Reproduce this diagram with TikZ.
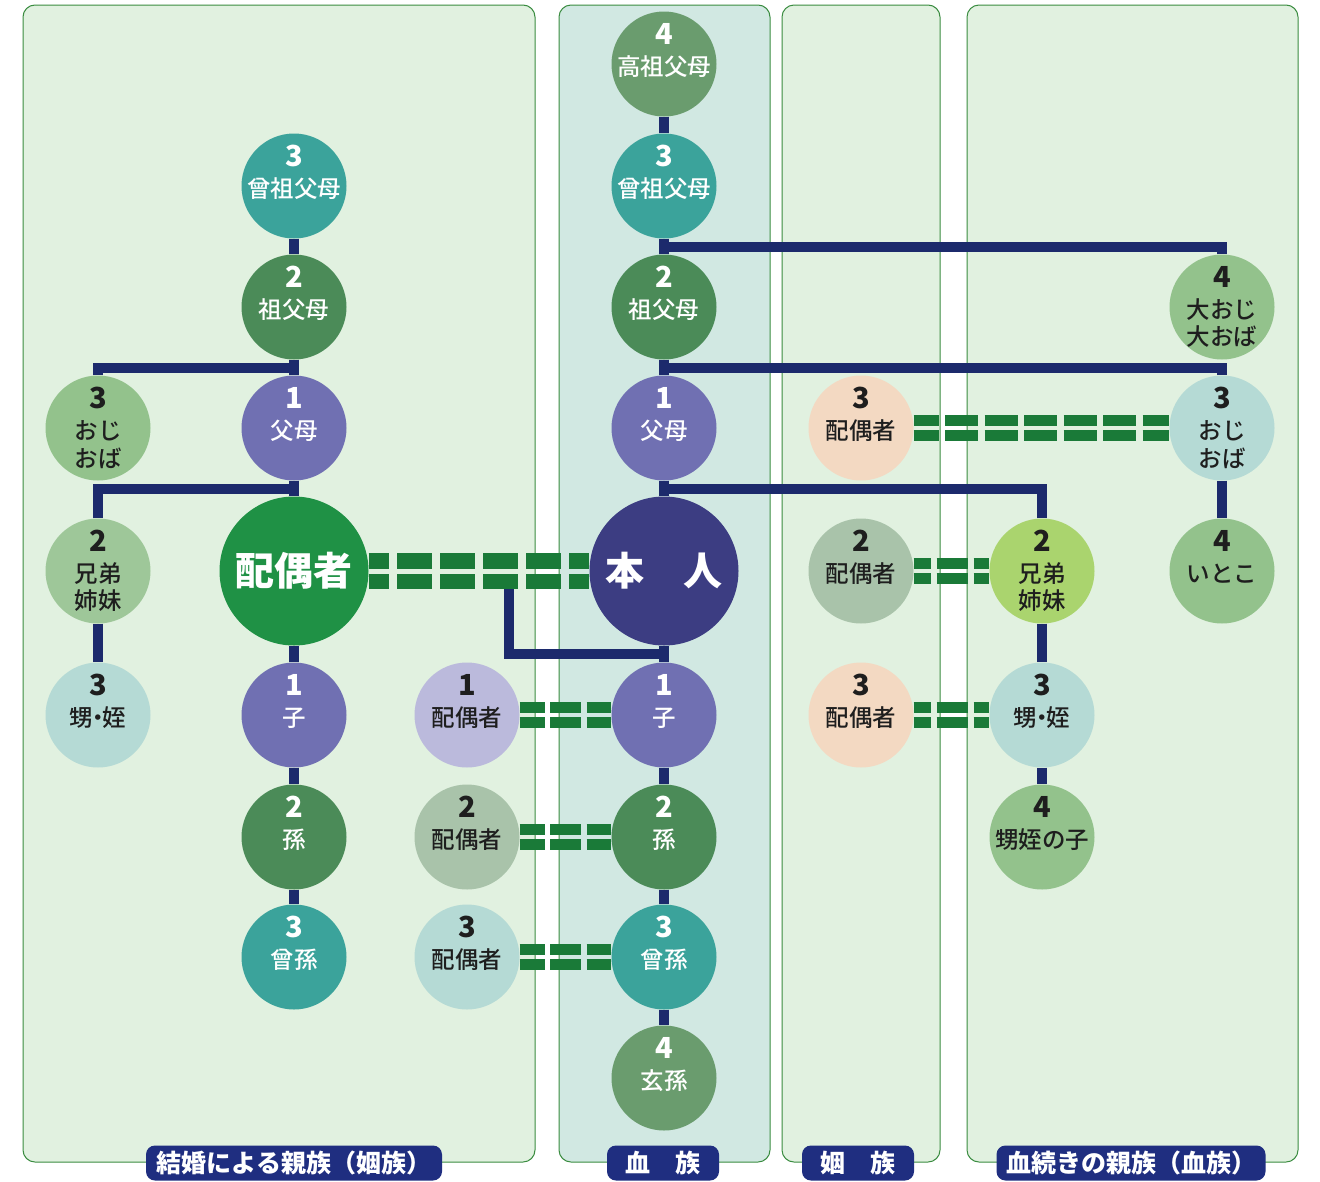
\documentclass[tikz,border=0pt]{standalone}
\usepackage{fontspec}
\setmainfont{Noto Sans CJK JP}
\newfontfamily\labfont{Noto Sans CJK JP}[UprightFont={* Medium}]
\usetikzlibrary{calc}
\definecolor{cNavy}{HTML}{1C2A6C}
\definecolor{cDash}{HTML}{1A7A38}
\definecolor{cPill}{HTML}{1F2E80}
\definecolor{cBorder}{HTML}{3A8C40}
\definecolor{cPanel}{HTML}{E1F1E0}
\definecolor{cPanelB}{HTML}{D1E8E2}
\definecolor{cTeal}{HTML}{3BA39B}
\definecolor{cGreen}{HTML}{4B8B58}
\definecolor{cPurple}{HTML}{7070B2}
\definecolor{cOlive}{HTML}{6A9C6E}
\definecolor{cSpouse}{HTML}{1F9145}
\definecolor{cSelf}{HTML}{3C3D82}
\definecolor{cLGreen}{HTML}{93C28C}
\definecolor{cLGreenB}{HTML}{9EC799}
\definecolor{cPTeal}{HTML}{B5DAD5}
\definecolor{cLav}{HTML}{BBBADC}
\definecolor{cGrey}{HTML}{A9C3AA}
\definecolor{cPeach}{HTML}{F3D9C2}
\definecolor{cLime}{HTML}{AAD46E}
\definecolor{cInk}{HTML}{1E1E1E}
\pgfdeclarelayer{panels}
\pgfdeclarelayer{links}
\pgfsetlayers{panels,links,main}
\newcommand\nd{{\kern-0.3em}・{\kern-0.3em}}
\newcommand\pp[7]{%
  \node[pc,fill=#3] (#1) at (#2) {};
  \node[numt,text=#4] (#1-n) at ([yshift=30pt]#1.center) {#5};
  \node[labt,text=#4] (#1-a) at ([yshift=-3pt]#1.center) {#6};
  \if\relax\detokenize{#7}\relax\else
  \node[labt,text=#4] (#1-b) at ([yshift=-30pt]#1.center) {#7};
  \fi}
\begin{document}
\begin{tikzpicture}[x=1pt,y=-1pt,
  pc/.style={circle,minimum size=105pt,inner sep=0pt,draw=none},
  bigc/.style={circle,minimum size=149pt,inner sep=0pt,draw=none,text=white,
    font=\fontsize{39}{39}\selectfont\bfseries},
  numt/.style={inner sep=0pt,font=\fontsize{29}{29}\selectfont\bfseries},
  labt/.style={inner sep=0pt,font=\labfont\fontsize{23.5}{23.5}\selectfont},
  link/.style={draw=cNavy,line width=10pt},
  dl/.style={draw=cDash,line width=11pt},
  dlbig/.style={draw=cDash,line width=15.5pt,dash pattern=on 35pt off 8pt,dash phase=14.5pt},
  panel/.style={draw=cBorder,line width=1pt,rounded corners=12pt},
  pill/.style={fill=cPill,text=white,rounded corners=9pt,minimum height=35pt,
    inner sep=0pt,font=\fontsize{25}{25}\selectfont\bfseries}]
\useasboundingbox (0,0) rectangle (1320,1181);
\begin{pgfonlayer}{panels}
\fill[white] (0,0) rectangle (1320,1181);
\draw[panel,fill=cPanel] (23,5) rectangle (535,1162);
\draw[panel,fill=cPanelB] (559,5) rectangle (770,1162);
\draw[panel,fill=cPanel] (782,5) rectangle (940,1162);
\draw[panel,fill=cPanel] (967,5) rectangle (1298,1162);
\end{pgfonlayer}
% left panel
\pp{LS3}{294,186}{cTeal}{white}{3}{曾祖父母}{}
\pp{LS2}{294,307}{cGreen}{white}{2}{祖父母}{}
\pp{LOJ}{98,428}{cLGreen}{cInk}{3}{おじ}{おば}
\pp{LP}{294,428}{cPurple}{white}{1}{父母}{}
\pp{LSB}{98,571}{cLGreenB}{cInk}{2}{兄弟}{姉妹}
\node[bigc,fill=cSpouse] (SP) at (294,571) {配偶者};
\pp{LNN}{98,715}{cPTeal}{cInk}{3}{甥\nd 姪}{}
\pp{LC1}{294,715}{cPurple}{white}{1}{子}{}
\pp{LC2}{294,837}{cGreen}{white}{2}{孫}{}
\pp{LC3}{294,957}{cTeal}{white}{3}{曾孫}{}
\pp{SP1}{467,715}{cLav}{cInk}{1}{配偶者}{}
\pp{SP2}{467,837}{cGrey}{cInk}{2}{配偶者}{}
\pp{SP3}{467,957}{cPTeal}{cInk}{3}{配偶者}{}
% blood column
\pp{B4}{664,64}{cOlive}{white}{4}{高祖父母}{}
\pp{B3}{664,186}{cTeal}{white}{3}{曾祖父母}{}
\pp{B2}{664,307}{cGreen}{white}{2}{祖父母}{}
\pp{B1}{664,428}{cPurple}{white}{1}{父母}{}
\node[bigc,fill=cSelf] (HON) at (664,571) {本　人};
\pp{C1}{664,715}{cPurple}{white}{1}{子}{}
\pp{C2}{664,837}{cGreen}{white}{2}{孫}{}
\pp{C3}{664,957}{cTeal}{white}{3}{曾孫}{}
\pp{C4}{664,1078}{cOlive}{white}{4}{玄孫}{}
% in-law column
\pp{IS3}{861,428}{cPeach}{cInk}{3}{配偶者}{}
\pp{IS2}{861,571}{cGrey}{cInk}{2}{配偶者}{}
\pp{IS3b}{861,715}{cPeach}{cInk}{3}{配偶者}{}
% right panel
\pp{RGU}{1222,307}{cLGreen}{cInk}{4}{大おじ}{大おば}
\pp{ROJ}{1222,428}{cPTeal}{cInk}{3}{おじ}{おば}
\pp{RIT}{1222,571}{cLGreen}{cInk}{4}{いとこ}{}
\pp{RSB}{1042,571}{cLime}{cInk}{2}{兄弟}{姉妹}
\pp{RNN}{1042,715}{cPTeal}{cInk}{3}{甥\nd 姪}{}
\pp{RNC}{1042,837}{cLGreen}{cInk}{4}{甥姪の子}{}
% labels
\node[pill,minimum width=296pt] (t1) at (294,1163) {結婚による親族（姻族）};
\node[pill,minimum width=112pt] (t2) at (663,1163) {血　族};
\node[pill,minimum width=112pt] (t3) at (858,1163) {姻　族};
\node[pill,minimum width=269pt] (t4) at (1131,1163) {血続きの親族（血族）};
\coordinate (mk) at (509,575);
\begin{pgfonlayer}{links}
\draw[link] (LS3.south) -- (LS2.north);
\draw[link] (LS2.south) -- (LP.north);
\draw[link] (LP.south) -- (SP.north);
\draw[link] (SP.south) -- (LC1.north);
\draw[link] (LC1.south) -- (LC2.north);
\draw[link] (LC2.south) -- (LC3.north);
\draw[link] ($(LS2.south)!.5!(LP.north)$) -| (LOJ.north);
\draw[link] ($(LP.south)!.5!(SP.north)$) -| (LSB.north);
\draw[link] (LSB.south) -- (LNN.north);
\draw[link] (B4.south) -- (B3.north);
\draw[link] (B3.south) -- (B2.north);
\draw[link] (B2.south) -- (B1.north);
\draw[link] (B1.south) -- (HON.north);
\draw[link] (HON.south) -- (C1.north);
\draw[link] (C1.south) -- (C2.north);
\draw[link] (C2.south) -- (C3.north);
\draw[link] (C3.south) -- (C4.north);
\draw[link] ($(B3.south)!.5!(B2.north)$) -| (RGU.north);
\draw[link] ($(B2.south)!.5!(B1.north)$) -| (ROJ.north);
\draw[link] ($(B1.south)!.5!(HON.north)$) -| (RSB.north);
\draw[link] (ROJ.south) -- (RIT.north);
\draw[link] (RSB.south) -- (RNN.north);
\draw[link] (RNN.south) -- (RNC.north);
\draw[link] (mk) |- ($(HON.south)!.5!(C1.north)$);
% double dashed marriage links
\draw[dlbig] ([yshift=10.25pt]SP.east) -- ([yshift=10.25pt]HON.west);
\draw[dlbig] ([yshift=-10.25pt]SP.east) -- ([yshift=-10.25pt]HON.west);
\foreach \a/\b/\on/\off/\ph in {SP1/C1/31/5.5/6,SP2/C2/31/5.5/6,SP3/C3/31/5.5/6,
    IS3/ROJ/33/6.5/8,IS2/RSB/31/6/14,IS3b/RNN/31/6/14}{
  \draw[dl,dash pattern=on \on pt off \off pt,dash phase=\ph pt]
    ([yshift=7.75pt]\a.east) -- ([yshift=7.75pt]\b.west);
  \draw[dl,dash pattern=on \on pt off \off pt,dash phase=\ph pt]
    ([yshift=-7.75pt]\a.east) -- ([yshift=-7.75pt]\b.west);
}
\end{pgfonlayer}
\end{tikzpicture}
\end{document}
